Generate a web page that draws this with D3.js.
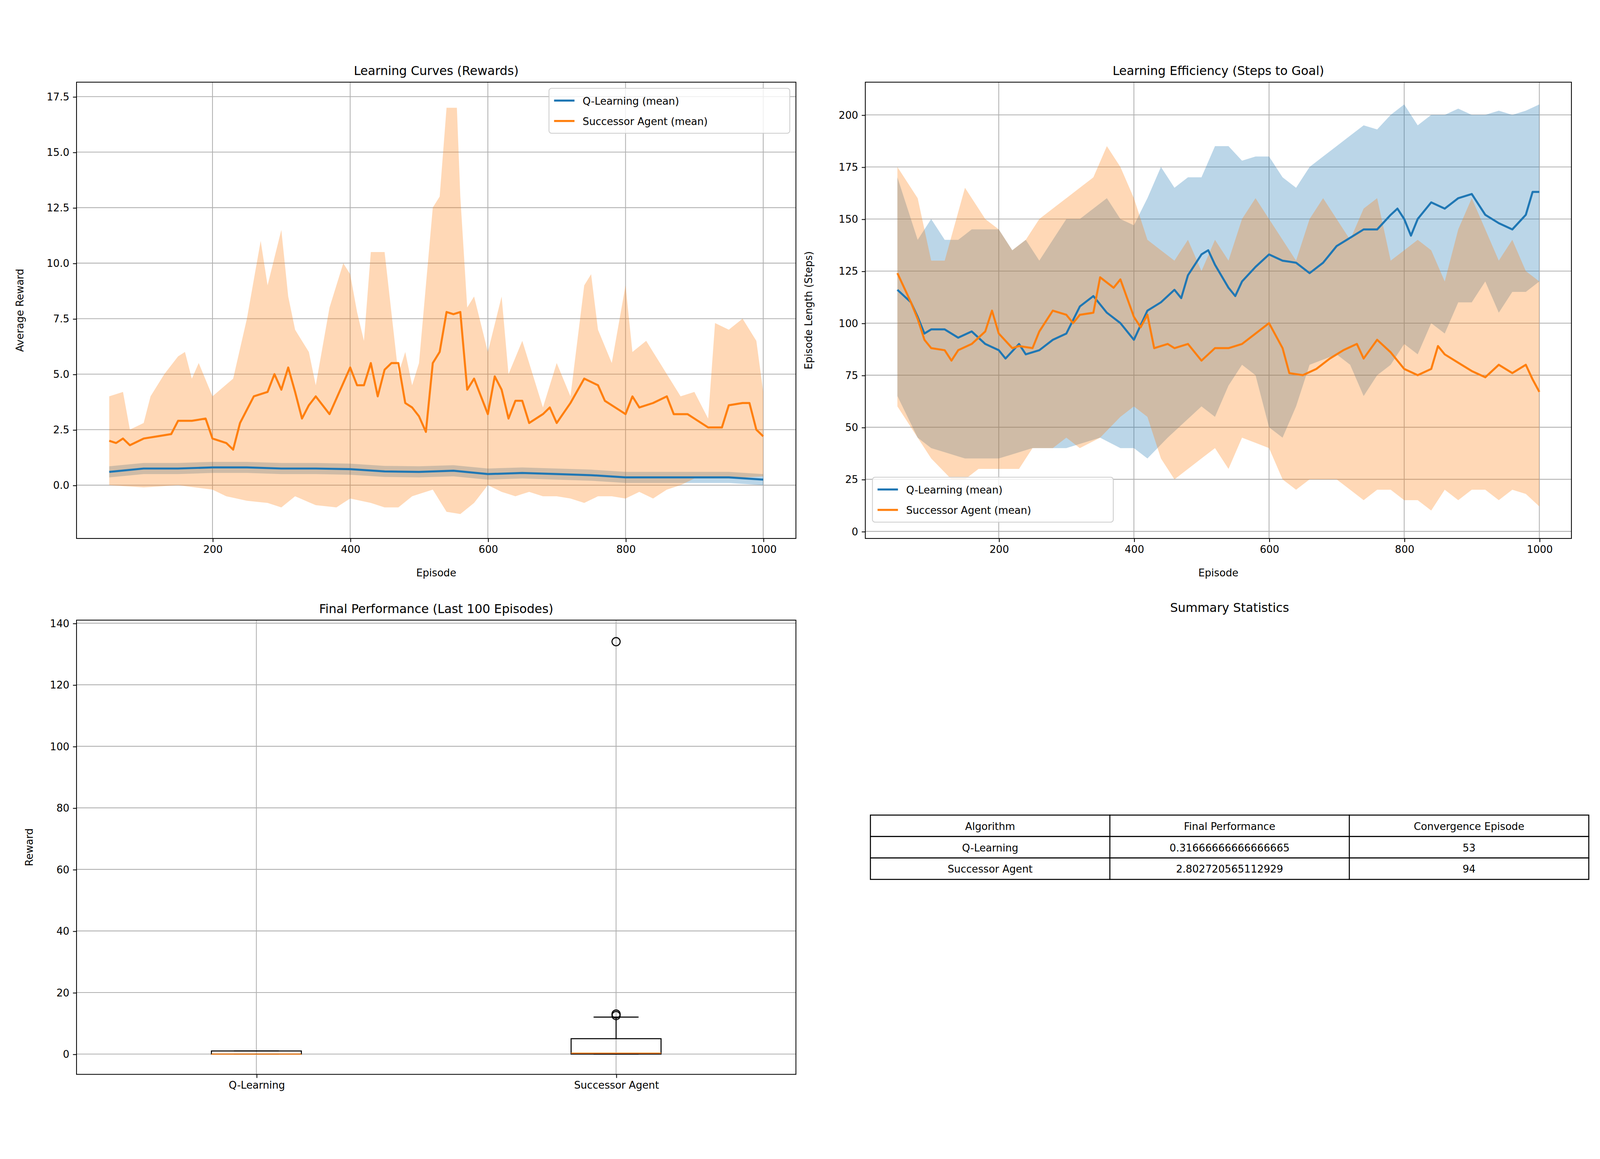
<!DOCTYPE html>
<html>
<head>
<style>
  html, body { margin: 0; padding: 0; background: #fff; overflow: hidden; }
  svg { display: block; width: 100vw; height: 100vh; }
  text { font-family: "DejaVu Sans", sans-serif; fill: #000; }
</style>
</head>
<body>
<div id="chart"></div>
<script src="https://d3js.org/d3.v7.min.js"></script>
<script>
// ---- data ([episode, value]) ----
var qRewardMean = [[50,0.6],[100,0.75],[150,0.75],[200,0.8],[250,0.8],[300,0.75],[350,0.75],[400,0.72],[450,0.62],[500,0.6],[550,0.65],[600,0.5],[650,0.55],[700,0.5],[750,0.45],[800,0.35],[850,0.35],[900,0.35],[950,0.35],[1000,0.25]];
var qRewardSpread = 0.25;
var saRewardMean = [[50,2.0],[60,1.9],[70,2.1],[80,1.8],[100,2.1],[120,2.2],[140,2.3],[150,2.9],[170,2.9],[190,3.0],[200,2.1],[220,1.9],[230,1.6],[240,2.8],[260,4.0],[280,4.2],[290,5.0],[300,4.3],[310,5.3],[320,4.2],[330,3.0],[340,3.6],[350,4.0],[370,3.2],[380,3.9],[400,5.3],[410,4.5],[420,4.5],[430,5.5],[440,4.0],[450,5.2],[460,5.5],[470,5.5],[480,3.7],[490,3.5],[500,3.1],[510,2.4],[520,5.5],[530,6.0],[540,7.8],[550,7.7],[560,7.8],[570,4.3],[580,4.8],[590,4.0],[600,3.2],[610,4.9],[620,4.3],[630,3.0],[640,3.8],[650,3.8],[660,2.8],[680,3.2],[690,3.5],[700,2.8],[720,3.7],[740,4.8],[760,4.5],[770,3.8],[790,3.4],[800,3.2],[810,4.0],[820,3.5],[840,3.7],[860,4.0],[870,3.2],[890,3.2],[900,3.0],[920,2.6],[940,2.6],[950,3.6],[970,3.7],[980,3.7],[990,2.5],[1000,2.2]];
var saRewardUpper = [[50,4.0],[70,4.2],[80,2.5],[100,2.8],[110,4.0],[130,5.0],[150,5.8],[160,6.0],[170,4.8],[180,5.5],[200,4.0],[230,4.8],[250,7.5],[270,11.0],[280,9.0],[300,11.5],[310,8.5],[320,7.0],[340,6.0],[350,4.5],[370,8.0],[390,10.0],[400,9.5],[410,7.8],[420,6.5],[430,10.5],[450,10.5],[470,5.0],[480,6.0],[490,4.5],[500,5.5],[520,12.5],[530,13.0],[540,17.0],[555,17.0],[560,13.0],[570,8.0],[580,8.5],[600,6.0],[620,8.5],[630,5.0],[650,6.5],[680,3.5],[700,5.5],[720,4.0],[740,9.0],[750,9.5],[760,7.0],[780,5.5],[800,9.0],[810,6.0],[830,6.5],[850,5.5],[860,5.0],[880,4.0],[900,4.2],[920,3.0],[930,7.3],[950,7.0],[970,7.5],[990,6.5],[1000,4.2]];
var saRewardLower = [[50,0.0],[100,-0.1],[150,0.0],[200,-0.2],[220,-0.5],[250,-0.7],[280,-0.8],[300,-1.0],[320,-0.5],[350,-0.9],[380,-1.0],[400,-0.6],[430,-0.8],[450,-1.0],[470,-1.0],[490,-0.5],[520,-0.2],[540,-1.2],[560,-1.3],[580,-0.8],[600,0.0],[620,-0.3],[640,-0.5],[660,-0.3],[680,-0.5],[700,-0.5],[720,-0.6],[740,-0.8],[760,-0.5],[780,-0.5],[800,-0.6],[820,-0.3],[840,-0.6],[860,-0.2],[880,0.0],[900,0.3],[950,0.3],[1000,0.4]];

var qStepsMean = [[50,116],[60,113],[70,110],[80,103],[90,95],[100,97],[120,97],[140,93],[160,96],[180,90],[200,87],[210,83],[230,90],[240,85],[260,87],[280,92],[300,95],[320,108],[340,113],[360,105],[380,100],[400,92],[420,106],[440,110],[460,116],[470,112],[480,123],[500,133],[510,135],[520,128],[540,117],[550,113],[560,120],[580,127],[600,133],[620,130],[640,129],[660,124],[680,129],[700,137],[720,141],[740,145],[760,145],[780,152],[790,155],[800,150],[810,142],[820,150],[840,158],[860,155],[880,160],[900,162],[920,152],[940,148],[960,145],[980,152],[990,163],[1000,163]];
var qStepsUpper = [[50,170],[80,140],[100,150],[120,140],[140,140],[160,145],[200,145],[220,135],[240,140],[260,130],[300,150],[320,150],[340,155],[360,160],[380,150],[400,147],[420,160],[440,175],[460,165],[480,170],[500,170],[520,185],[540,185],[560,178],[580,180],[600,180],[620,170],[640,165],[660,175],[680,180],[700,185],[720,190],[740,195],[760,193],[780,200],[800,205],[820,195],[840,200],[860,200],[880,203],[900,200],[920,200],[940,202],[960,200],[980,202],[1000,205]];
var qStepsLower = [[50,65],[80,45],[100,40],[150,35],[200,35],[250,40],[300,40],[350,45],[380,40],[400,40],[420,35],[450,45],[500,60],[520,55],[540,70],[560,80],[580,75],[600,50],[620,45],[640,60],[660,80],[700,85],[720,80],[740,65],[760,75],[780,80],[800,90],[820,85],[840,100],[860,95],[880,110],[900,110],[920,120],[940,105],[960,115],[980,115],[1000,120]];
var saStepsMean = [[50,124],[60,117],[70,110],[80,102],[90,92],[100,88],[120,87],[130,82],[140,87],[160,90],[180,96],[190,106],[200,95],[220,88],[230,89],[250,88],[260,96],[280,106],[300,104],[310,100],[320,104],[340,105],[350,122],[370,117],[380,121],[400,103],[410,98],[420,104],[430,88],[450,90],[460,88],[480,90],[500,82],[520,88],[540,88],[560,90],[580,95],[600,100],[620,88],[630,76],[650,75],[670,78],[690,83],[710,87],[730,90],[740,83],[760,92],[780,86],[800,78],[820,75],[840,78],[850,89],[860,85],[880,81],[900,77],[920,74],[940,80],[960,76],[980,80],[990,73],[1000,67]];
var saStepsUpper = [[50,175],[80,160],[100,130],[120,130],[150,165],[180,150],[200,145],[220,135],[240,140],[260,150],[280,155],[300,160],[320,165],[340,170],[360,185],[380,175],[400,160],[410,150],[420,140],[440,135],[460,130],[480,140],[500,125],[520,140],[540,130],[560,150],[580,160],[600,150],[620,140],[640,130],[660,150],[680,160],[700,150],[720,140],[740,155],[760,160],[780,130],[800,135],[820,140],[840,135],[860,120],[880,145],[900,160],[920,145],[940,130],[960,140],[980,125],[1000,120]];
var saStepsLower = [[50,60],[80,45],[100,35],[130,25],[150,25],[170,30],[200,30],[230,30],[250,40],[280,40],[300,45],[320,40],[350,45],[380,55],[400,60],[420,55],[440,35],[460,25],[480,30],[500,35],[520,40],[540,30],[560,45],[600,40],[620,25],[640,20],[660,25],[680,25],[700,25],[720,20],[740,15],[760,20],[780,20],[800,15],[820,15],[840,10],[860,20],[880,15],[900,20],[920,20],[940,15],[960,20],[980,18],[1000,12]];

var boxNames = ["Q-Learning", "Successor Agent"];
var boxStats = [ {q1:0, med:0, q3:1, lo:0, hi:1, out:[]},
                 {q1:0, med:0.3, q3:5, lo:0, hi:12, out:[12.5, 13, 134]} ];

var tableHeader = ["Algorithm", "Final Performance", "Convergence Episode"];
var tableRows = [["Q-Learning", "0.31666666666666665", "53"],
                 ["Successor Agent", "2.802720565112929", "94"]];

// ---- drawing ----
var W = 1568, H = 1040.4;
var blue = "#1f77b4", orange = "#ff7f0e";
var svg = d3.select("#chart").append("svg")
  .attr("viewBox", "0 0 " + W + " " + H)
  .attr("preserveAspectRatio", "xMidYMid meet");
svg.append("rect").attr("width", W).attr("height", H).attr("fill", "#fff");

function panel(box, xs, ys, xTicks, yTicks, fmtY, title, xlab, ylab) {
  var g = svg.append("g");
  var gx = g.append("g").attr("transform", "translate(0," + box.b + ")")
    .call(d3.axisBottom(xs).tickValues(xTicks).tickSize(3.5).tickPadding(3.5).tickFormat(xlab ? d3.format("d") : function(d, i){ return boxNames[i]; }));
  var gy = g.append("g").attr("transform", "translate(" + box.l + ",0)")
    .call(d3.axisLeft(ys).tickValues(yTicks).tickSize(3.5).tickPadding(3.5).tickFormat(fmtY));
  [gx, gy].forEach(function(a){ a.select(".domain").remove(); a.selectAll("text").attr("font-size", 10).style("font-family", "DejaVu Sans"); a.selectAll("line").attr("stroke-width", 0.8); });
  var grid = g.append("g").attr("stroke", "#b0b0b0").attr("stroke-width", 0.8);
  xTicks.forEach(function(t){ grid.append("line").attr("x1", xs(t)).attr("x2", xs(t)).attr("y1", box.t).attr("y2", box.b); });
  yTicks.forEach(function(t){ grid.append("line").attr("y1", ys(t)).attr("y2", ys(t)).attr("x1", box.l).attr("x2", box.r); });
  var plot = g.append("g");
  g.append("rect").attr("x", box.l).attr("y", box.t).attr("width", box.r - box.l).attr("height", box.b - box.t)
    .attr("fill", "none").attr("stroke", "#000").attr("stroke-width", 0.8);
  g.append("text").attr("x", (box.l + box.r) / 2).attr("y", box.t - 7).attr("text-anchor", "middle").attr("font-size", 12).text(title);
  if (xlab) g.append("text").attr("x", (box.l + box.r) / 2).attr("y", box.b + 37).attr("text-anchor", "middle").attr("font-size", 10).text(xlab);
  g.append("text").attr("transform", "translate(" + (box.l - (ylab === "Reward" ? 43 : 52)) + "," + (box.t + box.b) / 2 + ") rotate(-90)")
    .attr("text-anchor", "middle").attr("font-size", 10).text(ylab);
  return plot;
}

function interp(arr) {
  var xs = arr.map(function(d){ return d[0]; });
  return function(x) {
    var i = d3.bisectLeft(xs, x);
    if (i <= 0) return arr[0][1];
    if (i >= arr.length) return arr[arr.length - 1][1];
    var a = arr[i - 1], b = arr[i];
    return a[1] + (b[1] - a[1]) * (x - a[0]) / (b[0] - a[0]);
  };
}
function band(plot, xs, ys, up, lo, color) {
  var fu = interp(up), fl = interp(lo);
  var eps = d3.union(up.map(function(d){return d[0];}), lo.map(function(d){return d[0];}));
  eps = Array.from(eps).sort(d3.ascending);
  plot.append("path").datum(eps)
    .attr("d", d3.area().x(function(e){ return xs(e); }).y0(function(e){ return ys(fl(e)); }).y1(function(e){ return ys(fu(e)); }))
    .attr("fill", color).attr("fill-opacity", 0.3);
}
function line(plot, xs, ys, data, color) {
  plot.append("path").datum(data)
    .attr("d", d3.line().x(function(d){ return xs(d[0]); }).y(function(d){ return ys(d[1]); }))
    .attr("fill", "none").attr("stroke", color).attr("stroke-width", 2).attr("stroke-linejoin", "round");
}
function legend(x, y, w) {
  var g = svg.append("g").attr("transform", "translate(" + x + "," + y + ")");
  g.append("rect").attr("width", w).attr("height", 44).attr("rx", 2.5).attr("fill", "#fff").attr("fill-opacity", 0.8).attr("stroke", "#ccc").attr("stroke-width", 0.8);
  [["Q-Learning (mean)", blue], ["Successor Agent (mean)", orange]].forEach(function(d, i){
    g.append("line").attr("x1", 5).attr("x2", 25).attr("y1", 12 + i * 20).attr("y2", 12 + i * 20).attr("stroke", d[1]).attr("stroke-width", 2);
    g.append("text").attr("x", 33).attr("y", 16 + i * 20).attr("font-size", 10).text(d[0]);
  });
}

// Panel 1: rewards
var b1 = {l:75, r:780, t:33, b:480};
var x1 = d3.scaleLinear().domain([2.5, 1047.5]).range([b1.l, b1.r]);
var y1 = d3.scaleLinear().domain([-2.4, 18.15]).range([b1.b, b1.t]);
var p1 = panel(b1, x1, y1, [200,400,600,800,1000], d3.range(0, 17.6, 2.5), d3.format(".1f"),
  "Learning Curves (Rewards)", "Episode", "Average Reward");
band(p1, x1, y1, qRewardMean.map(function(d){ return [d[0], d[1] + qRewardSpread]; }), qRewardMean.map(function(d){ return [d[0], d[1] - qRewardSpread]; }), blue);
band(p1, x1, y1, saRewardUpper, saRewardLower, orange);
line(p1, x1, y1, qRewardMean, blue);
line(p1, x1, y1, saRewardMean, orange);
legend(538, 39, 236);

// Panel 2: steps
var b2 = {l:848, r:1540, t:33, b:480};
var x2 = d3.scaleLinear().domain([2.5, 1047.5]).range([b2.l, b2.r]);
var y2 = d3.scaleLinear().domain([-3.4, 215.7]).range([b2.b, b2.t]);
var p2 = panel(b2, x2, y2, [200,400,600,800,1000], d3.range(0, 201, 25), d3.format("d"),
  "Learning Efficiency (Steps to Goal)", "Episode", "Episode Length (Steps)");
band(p2, x2, y2, qStepsUpper, qStepsLower, blue);
band(p2, x2, y2, saStepsUpper, saStepsLower, orange);
line(p2, x2, y2, qStepsMean, blue);
line(p2, x2, y2, saStepsMean, orange);
legend(855, 420, 236);

// Panel 3: boxplot
var b3 = {l:75, r:780, t:560, b:1005};
var x3 = d3.scaleLinear().domain([0.5, 2.5]).range([b3.l, b3.r]);
var y3 = d3.scaleLinear().domain([-6.6, 141]).range([b3.b, b3.t]);
var p3 = panel(b3, x3, y3, [1, 2], d3.range(0, 141, 20), d3.format("d"),
  "Final Performance (Last 100 Episodes)", null, "Reward");
boxStats.forEach(function(s, i){
  var cx = x3(i + 1), hw = (x3(1.25) - x3(1)) / 2;
  var g = p3.append("g").attr("stroke-width", 1);
  g.append("line").attr("x1", cx).attr("x2", cx).attr("y1", y3(s.q3)).attr("y2", y3(s.hi)).attr("stroke", "#000");
  g.append("line").attr("x1", cx).attr("x2", cx).attr("y1", y3(s.q1)).attr("y2", y3(s.lo)).attr("stroke", "#000");
  [s.hi, s.lo].forEach(function(v){ g.append("line").attr("x1", cx - hw / 2).attr("x2", cx + hw / 2).attr("y1", y3(v)).attr("y2", y3(v)).attr("stroke", "#000"); });
  g.append("rect").attr("x", cx - hw).attr("width", 2 * hw).attr("y", y3(s.q3)).attr("height", Math.max(0.5, y3(s.q1) - y3(s.q3))).attr("fill", "none").attr("stroke", "#000");
  g.append("line").attr("x1", cx - hw).attr("x2", cx + hw).attr("y1", y3(s.med)).attr("y2", y3(s.med)).attr("stroke", orange);
  s.out.forEach(function(v){ g.append("circle").attr("cx", cx).attr("cy", y3(v)).attr("r", 4).attr("fill", "none").attr("stroke", "#000"); });
});

// Table
svg.append("text").attr("x", 1205).attr("y", 552).attr("text-anchor", "middle").attr("font-size", 12).text("Summary Statistics");
var tx = d3.scaleBand().domain(d3.range(3)).range([853, 1557]);
var allRows = [tableHeader].concat(tableRows);
var ty = d3.scaleBand().domain(d3.range(allRows.length)).range([751, 814]);
allRows.forEach(function(row, r){
  row.forEach(function(cell, c){
    svg.append("rect").attr("x", tx(c)).attr("y", ty(r)).attr("width", tx.bandwidth()).attr("height", ty.bandwidth())
      .attr("fill", "#fff").attr("stroke", "#000").attr("stroke-width", 1);
    svg.append("text").attr("x", tx(c) + tx.bandwidth() / 2).attr("y", ty(r) + ty.bandwidth() / 2 + 4)
      .attr("text-anchor", "middle").attr("font-size", 10).text(cell);
  });
});
</script>
</body>
</html>
